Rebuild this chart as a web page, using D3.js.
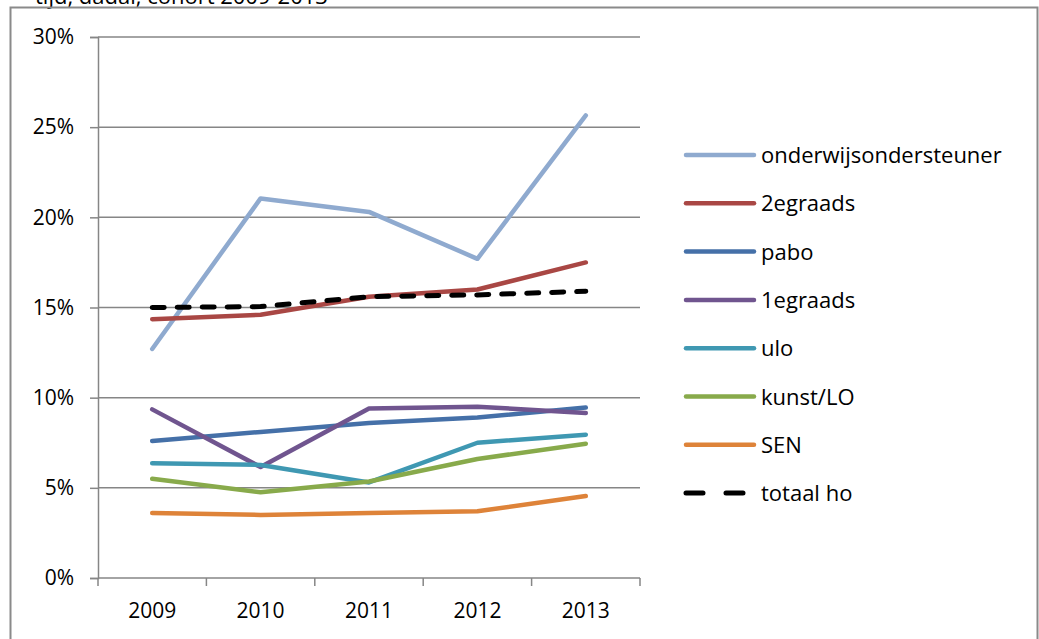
<!DOCTYPE html>
<html>
<head>
<meta charset="utf-8">
<script src="https://cdn.jsdelivr.net/npm/d3@7"></script>
<style>
  body { margin: 0; background: #fff; }
  svg { display: block; font-family: "Open Sans", sans-serif; }
</style>
</head>
<body>
<div id="chart"></div>
<script>
// data
const years = ['2009', '2010', '2011', '2012', '2013'];
const onderwijsondersteuner = [12.7, 21.05, 20.3, 17.7, 25.65];
const tweedegraads = [14.35, 14.6, 15.6, 16.0, 17.5];
const pabo = [7.6, 8.1, 8.6, 8.9, 9.45];
const eerstegraads = [9.35, 6.15, 9.4, 9.5, 9.15];
const ulo = [6.37, 6.27, 5.3, 7.5, 7.95];
const kunstLO = [5.5, 4.75, 5.35, 6.6, 7.45];
const sen = [3.6, 3.5, 3.6, 3.7, 4.55];
const totaalHo = [15.0, 15.05, 15.6, 15.7, 15.9];
const yTicks = [0, 5, 10, 15, 20, 25, 30];

const series = [
  { name: 'onderwijsondersteuner', values: onderwijsondersteuner, color: '#8FAACF' },
  { name: '2egraads', values: tweedegraads, color: '#A94744' },
  { name: 'pabo', values: pabo, color: '#4570A8' },
  { name: '1egraads', values: eerstegraads, color: '#70558F' },
  { name: 'ulo', values: ulo, color: '#3F98B2' },
  { name: 'kunst/LO', values: kunstLO, color: '#88AA4B' },
  { name: 'SEN', values: sen, color: '#DE8339' },
  { name: 'totaal ho', values: totaalHo, color: '#000', dashed: true }
];

const width = 1039, height = 639;
const margin = { top: 37, left: 98 };
const innerWidth = 542, innerHeight = 541;

const svg = d3.select('#chart').append('svg')
  .attr('width', width)
  .attr('height', height);

// title, cut off by the top of the page like in the source
svg.append('text')
  .attr('x', 35)
  .attr('y', 4)
  .attr('font-size', 22)
  .attr('fill', '#000')
  .text('tijd, dadal, cohort 2009-2013');

// frame
svg.append('rect')
  .attr('x', 10.5)
  .attr('y', 7.5)
  .attr('width', 1027)
  .attr('height', 700)
  .attr('fill', 'none')
  .attr('stroke', '#8a8a8a')
  .attr('stroke-width', 2);

const plot = svg.append('g')
  .attr('transform', `translate(${margin.left},${margin.top})`);

const x = d3.scaleBand().domain(years).range([0, innerWidth]);
const y = d3.scaleLinear().domain([0, 30]).range([innerHeight, 0]);

// gridlines
plot.selectAll('.grid')
  .data(yTicks.filter(d => d > 0))
  .enter().append('line')
    .attr('class', 'grid')
    .attr('x1', 0)
    .attr('x2', innerWidth)
    .attr('y1', d => y(d))
    .attr('y2', d => y(d))
    .attr('stroke', '#868686')
    .attr('stroke-width', 1.5);

// y axis
const yAxis = d3.axisLeft(y)
  .tickValues(yTicks)
  .tickSize(8)
  .tickPadding(16)
  .tickFormat(d => d + '%');

const gy = plot.append('g').call(yAxis);
gy.select('.domain').attr('stroke', '#868686').attr('stroke-width', 1.5);
gy.selectAll('.tick line').attr('stroke', '#868686').attr('stroke-width', 1.5);
gy.selectAll('.tick text').attr('font-size', 21).attr('fill', '#000')
  .attr('font-family', '"Open Sans", sans-serif');

// x axis with ticks between categories
const xAxis = plot.append('g').attr('transform', `translate(0,${innerHeight})`);
xAxis.append('line')
  .attr('x1', 0).attr('x2', innerWidth)
  .attr('stroke', '#868686').attr('stroke-width', 1.5);
xAxis.selectAll('.xtick')
  .data(years.concat(['end']))
  .enter().append('line')
    .attr('x1', (d, i) => i * x.step())
    .attr('x2', (d, i) => i * x.step())
    .attr('y1', 0).attr('y2', 8)
    .attr('stroke', '#868686').attr('stroke-width', 1.5);
xAxis.selectAll('.xlabel')
  .data(years)
  .enter().append('text')
    .attr('x', d => x(d) + x.bandwidth() / 2)
    .attr('y', 40)
    .attr('text-anchor', 'middle')
    .attr('font-size', 21)
    .text(d => d);

// lines
const line = d3.line()
  .x((d, i) => x(years[i]) + x.bandwidth() / 2)
  .y(d => y(d));

plot.selectAll('.series')
  .data(series)
  .enter().append('path')
    .attr('class', 'series')
    .attr('d', d => line(d.values))
    .attr('fill', 'none')
    .attr('stroke', d => d.color)
    .attr('stroke-width', d => d.dashed ? 5 : 4.5)
    .attr('stroke-linecap', 'round')
    .attr('stroke-linejoin', 'round')
    .attr('stroke-dasharray', d => d.dashed ? '12 13' : null);

// legend
const legend = svg.append('g').attr('transform', 'translate(684,155)');
const items = legend.selectAll('.item')
  .data(series)
  .enter().append('g')
    .attr('transform', (d, i) => `translate(0,${i * 48.3})`);

items.append('line')
  .attr('x1', 2).attr('x2', 70)
  .attr('stroke', d => d.color)
  .attr('stroke-width', d => d.dashed ? 5 : 4.5)
  .attr('stroke-linecap', 'round')
  .attr('stroke-dasharray', d => d.dashed ? '17 23' : null);

items.append('text')
  .attr('x', 77)
  .attr('y', 8)
  .attr('font-size', 22)
  .text(d => d.name);
</script>
</body>
</html>
